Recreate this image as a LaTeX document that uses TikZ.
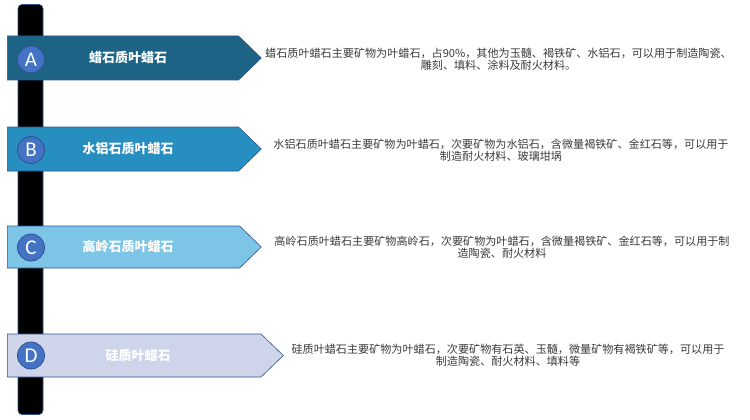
\documentclass[tikz,border=0pt]{standalone}
\usepackage{fontspec}
\newfontfamily\cjk{Noto Sans CJK SC}
\newfontfamily\lat{Carlito}
\usepackage{xcolor}
\usetikzlibrary{positioning, shapes.symbols}
\definecolor{edge}{HTML}{2F528F}
\definecolor{badgefill}{HTML}{4472C4}
\definecolor{tabA}{HTML}{1D6385}
\definecolor{tabB}{HTML}{278FC0}
\definecolor{tabC}{HTML}{7CC5E7}
\definecolor{tabD}{HTML}{CED5EA}
\definecolor{desctext}{HTML}{3A3A3A}

\begin{document}
\begin{tikzpicture}[x=1pt, y=-1pt, every node/.style={inner sep=0pt}]
    \tikzstyle{tab} = [signal, signal to=east, signal pointer angle=88, draw=edge, line width=0.6pt, minimum height=44pt, anchor=west]
    \tikzstyle{badge} = [circle, fill=badgefill, draw=edge, line width=0.8pt, minimum size=27pt, text=white, font=\lat\fontsize{21}{21}\selectfont]
    \tikzstyle{tabtext} = [text=white, font=\cjk\bfseries\fontsize{13}{15}\selectfont]
    \tikzstyle{desc} = [text=desctext, align=center, font=\cjk\fontsize{11.1}{11.8}\selectfont]

    \useasboundingbox (0,0) rectangle (750,420);

    % timeline bar
    \node[rectangle, rounded corners=4pt, fill=black, draw=edge, line width=0.6pt, minimum width=25pt, minimum height=410pt] (bar) at (30.5,209.5) {};

    % tabs
    \node[tab, fill=tabA, minimum width=254pt] (tabA) at (7,58) {};
    \node[tab, fill=tabB, minimum width=254pt] (tabB) at (7,149) {};
    \node[tab, fill=tabC, minimum width=254pt, minimum height=42pt] (tabC) at (7,247) {};
    \node[tab, fill=tabD, minimum width=276pt, minimum height=43pt] (tabD) at (7,355.5) {};

    \node[tabtext] (nameA) at (128,58) {蜡石质叶蜡石};
    \node[tabtext] (nameB) at (128,149) {水铝石质叶蜡石};
    \node[tabtext] (nameC) at (128,247) {高岭石质叶蜡石};
    \node[tabtext] (nameD) at (138,355.5) {硅质叶蜡石};

    % badges
    \node[badge] (badgeA) at (31,59.5) {A};
    \node[badge] (badgeB) at (31,150) {B};
    \node[badge] (badgeC) at (31,247.5) {C};
    \node[badge] (badgeD) at (31,355.5) {D};

    % descriptions
    \node[desc] (descA) at (498.5,59) {蜡石质叶蜡石主要矿物为叶蜡石，占90\%，其他为玉髓、褐铁矿、水铝石，可以用于制造陶瓷、\\雕刻、填料、涂料及耐火材料。};
    \node[desc] (descB) at (501,150.5) {水铝石质叶蜡石主要矿物为叶蜡石，次要矿物为水铝石，含微量褐铁矿、金红石等，可以用于\\制造耐火材料、玻璃坩埚};
    \node[desc] (descC) at (502,247) {高岭石质叶蜡石主要矿物高岭石，次要矿物为叶蜡石，含微量褐铁矿、金红石等，可以用于制\\造陶瓷、耐火材料};
    \node[desc] (descD) at (508,355) {硅质叶蜡石主要矿物为叶蜡石，次要矿物有石英、玉髓，微量矿物有褐铁矿等，可以用于\\制造陶瓷、耐火材料、填料等};
\end{tikzpicture}
\end{document}
